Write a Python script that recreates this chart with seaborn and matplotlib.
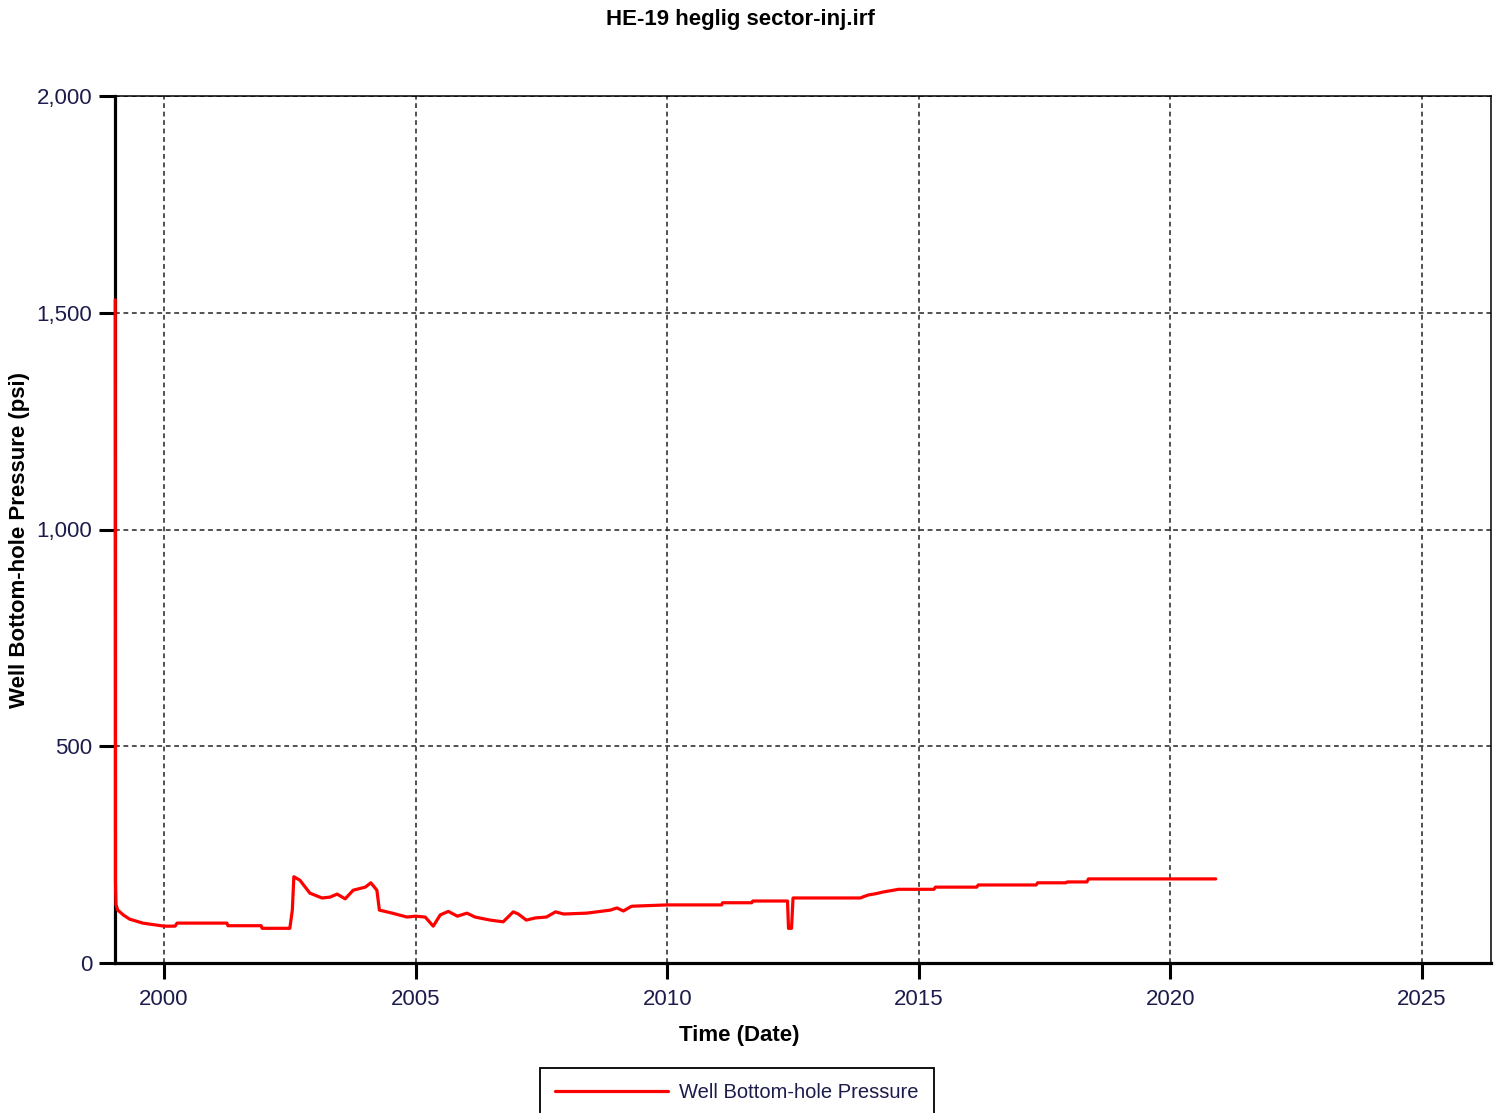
import numpy as np
import pandas as pd
import matplotlib
matplotlib.use("Agg")
import matplotlib.pyplot as plt
from matplotlib.ticker import FuncFormatter
import seaborn as sns

# Well bottom-hole pressure history (decimal year, psi)
years = [1999.03, 1999.035, 1999.045, 1999.08, 1999.2, 1999.32, 1999.58, 2000.0,
         2000.22, 2000.26, 2001.25, 2001.27, 2001.93, 2001.95, 2002.5, 2002.55,
         2002.58, 2002.7, 2002.9, 2003.14, 2003.3, 2003.44, 2003.6, 2003.76,
         2004.0, 2004.11, 2004.23, 2004.28, 2004.5, 2004.83, 2005.0, 2005.19,
         2005.35, 2005.49, 2005.65, 2005.83, 2006.02, 2006.18, 2006.48, 2006.74,
         2006.94, 2007.04, 2007.2, 2007.38, 2007.6, 2007.78, 2007.94, 2008.4,
         2008.87, 2009.0, 2009.13, 2009.26, 2009.3, 2010.0, 2011.08, 2011.1,
         2011.68, 2011.7, 2012.39, 2012.41, 2012.47, 2012.5, 2013.84, 2013.9,
         2014.0, 2014.15, 2014.3, 2014.6, 2015.3, 2015.33, 2016.15, 2016.18,
         2017.33, 2017.36, 2017.92, 2017.95, 2018.34, 2018.37, 2020.9]
pressure = [1530, 185, 135, 122, 110, 101, 92, 85,
            85, 92, 92, 86, 86, 80, 80, 122,
            199, 191, 161, 150, 152, 159, 148, 168,
            175, 185, 168, 122, 116, 106, 108, 106,
            85, 111, 119, 108, 115, 106, 99, 95,
            118, 113, 99, 104, 106, 118, 113, 115,
            122, 127, 120, 129, 131, 134, 134, 139,
            139, 143, 143, 80, 80, 150, 150, 153,
            157, 160, 164, 170, 170, 175, 175, 180,
            180, 185, 185, 187, 187, 194, 194]

x_ticks = [2000, 2005, 2010, 2015, 2020, 2025]
y_ticks = [0, 500, 1000, 1500, 2000]

title = "HE-19 heglig sector-inj.irf"
x_label = "Time (Date)"
y_label = "Well Bottom-hole Pressure (psi)"
series_name = "Well Bottom-hole Pressure"

sns.set_theme(style="white")
plt.rcParams["font.family"] = ["Liberation Sans", "DejaVu Sans"]

W, H = 1501, 1113
fig = plt.figure(figsize=(W / 100, H / 100), dpi=100)
fig.patch.set_facecolor("white")
ax = fig.add_axes([115 / W, 1 - 963 / H, (1491 - 115) / W, (963 - 96) / H])

df = pd.DataFrame({"year": years, "pressure": pressure})
sns.lineplot(data=df, x="year", y="pressure", ax=ax, color="#ff0000",
             linewidth=2.3, estimator=None, sort=False, label=series_name,
             zorder=5, clip_on=False)

ax.set_xlim(1999.026, 2026.37)
ax.set_ylim(0, 2000)
ax.set_xticks(x_ticks)
ax.set_yticks(y_ticks)
ax.yaxis.set_major_formatter(FuncFormatter(lambda v, _: f"{v:,.0f}"))
ax.set_xlabel("")
ax.set_ylabel("")

ax.grid(True, color="#2a2a2a", linestyle=(0, (3, 2.3)), linewidth=1.15)
ax.set_axisbelow(True)

for side in ("left", "bottom"):
    ax.spines[side].set_linewidth(2.3)
    ax.spines[side].set_color("black")
for side in ("top", "right"):
    ax.spines[side].set_linewidth(1.1)
    ax.spines[side].set_color("black")

label_color = "#1c1c4c"
ax.tick_params(axis="both", direction="out", length=11.5, width=2.2,
               color="black", labelsize=16, labelcolor=label_color)
ax.tick_params(axis="x", pad=7, bottom=True)
ax.tick_params(axis="y", pad=5, left=True)

fig.text(740 / W, 1 - 19 / H, title, ha="center", va="center",
         fontsize=16, fontweight="bold", color="black")
fig.text(739 / W, 1 - 1036 / H, x_label, ha="center", va="center",
         fontsize=16, fontweight="bold", color="black")
fig.text(20 / W, 1 - 540 / H, y_label, ha="center", va="center",
         rotation=90, fontsize=16, fontweight="bold", color="black")

handles, labels = ax.get_legend_handles_labels()
ax.get_legend().remove()
leg = fig.legend(handles, labels, loc="upper left",
                 bbox_to_anchor=(540 / W, 1 - 1068 / H),
                 bbox_transform=fig.transFigure, borderaxespad=0,
                 frameon=True, fancybox=False, shadow=False,
                 fontsize=14.5, handlelength=5.6, handletextpad=0.55,
                 borderpad=0.75, labelcolor=label_color)
leg.get_frame().set_edgecolor("black")
leg.get_frame().set_linewidth(1.3)
leg.get_frame().set_alpha(1)

fig.savefig("out.png", dpi=100, facecolor="white")
